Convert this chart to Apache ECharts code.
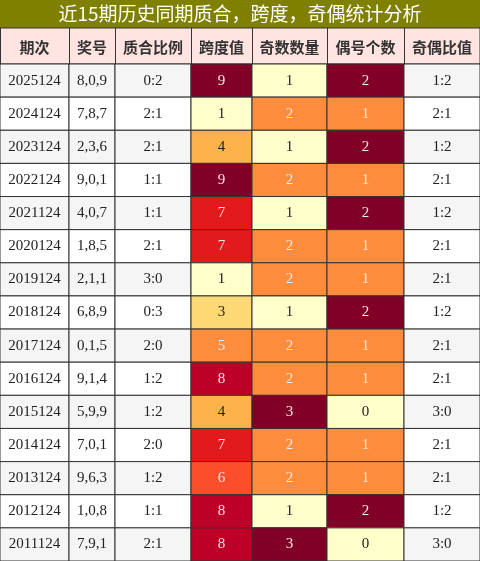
<!DOCTYPE html><html><head><meta charset="utf-8"><script src="https://cdn.jsdelivr.net/npm/echarts@6/dist/echarts.min.js"></script>
<style>html,body{margin:0;padding:0}#c{width:480px;height:561px}</style></head><body><div id="c"></div><script>
const title='近15期历史同期质合，跨度，奇偶统计分析';
const headers=['期次','奖号','质合比例','跨度值','奇数数量','偶号个数','奇偶比值'];
const periods=['2025124','2024124','2023124','2022124','2021124','2020124','2019124','2018124','2017124','2016124','2015124','2014124','2013124','2012124','2011124'];
const numbers=['8,0,9','7,8,7','2,3,6','9,0,1','4,0,7','1,8,5','2,1,1','6,8,9','0,1,5','9,1,4','5,9,9','7,0,1','9,6,3','1,0,8','7,9,1'];
const primeRatio=['0:2','2:1','2:1','1:1','1:1','2:1','3:0','0:3','2:0','1:2','1:2','2:0','1:2','1:1','2:1'];
const span=[9,1,4,9,7,7,1,3,5,8,4,7,6,8,8];
const oddCount=[1,2,1,2,1,2,2,1,2,2,3,2,2,1,3];
const evenCount=[2,1,2,1,2,1,1,2,1,1,0,1,1,2,0];
const oddEvenRatio=['1:2','2:1','1:2','2:1','1:2','2:1','2:1','1:2','2:1','2:1','3:0','2:1','2:1','1:2','3:0'];
const colEdges=[0,69,115,191,252,327,404,480];
const spanColors={1:'#ffffcc',3:'#fed976',4:'#feb24c',5:'#fd8d3c',6:'#fc4e2a',7:'#e31a1c',8:'#bd0026',9:'#800026'};
const oddColors={1:'#ffffcc',2:'#fd8d3c',3:'#800026'};
const evenColors={0:'#ffffcc',1:'#fd8d3c',2:'#800026'};
const data=[];
periods.forEach((p,i)=>{
  const base=i%2===0?'#f5f5f5':'#ffffff';
  const row=[[p,base],[numbers[i],base],[primeRatio[i],base],[span[i],spanColors[span[i]]],[oddCount[i],oddColors[oddCount[i]]],[evenCount[i],evenColors[evenCount[i]]],[oddEvenRatio[i],base]];
  row.forEach((c,j)=>data.push([j,i,String(c[0]),c[1]]));
});
const dark={'#800026':1,'#bd0026':1,'#e31a1c':1,'#fc4e2a':1,'#fd8d3c':1};
const chart=echarts.init(document.getElementById('c'));
chart.setOption({
 animation:false,
 grid:{left:0,right:0,top:64,bottom:0},
 xAxis:{type:'value',min:0,max:480,show:false},
 yAxis:{type:'category',data:periods,inverse:true,show:false},
 graphic:[
  {type:'rect',shape:{x:0,y:0,width:480,height:28},style:{fill:'#808000'}},
  {type:'text',x:240,y:14,style:{text:title,fill:'#fff',font:'19px "Noto Sans CJK SC"',align:'center',verticalAlign:'middle'}},
  {type:'rect',shape:{x:0,y:28,width:480,height:36},style:{fill:'#ffe4e1',stroke:'#333',lineWidth:1}},
  ...headers.map((h,j)=>({type:'group',children:[
    {type:'line',shape:{x1:colEdges[j]+0.5,y1:28,x2:colEdges[j]+0.5,y2:64},style:{stroke:'#333'}},
    {type:'text',x:(colEdges[j]+colEdges[j+1])/2,y:47,style:{text:h,fill:'#333',font:'bold 15px "Noto Sans CJK SC"',align:'center',verticalAlign:'middle'}}]}))
 ],
 series:[{type:'custom',data:data,renderItem:(params,api)=>{
   const j=api.value(0),i=api.value(1);
   const d=data[params.dataIndex];
   const y=api.coord([0,i])[1],h=api.size([0,1])[1];
   const x1=api.coord([colEdges[j],i])[0],x2=api.coord([colEdges[j+1],i])[0];
   return {type:'group',children:[
    {type:'rect',shape:{x:x1,y:y-h/2,width:x2-x1,height:h},style:{fill:d[3],stroke:'#333',lineWidth:1}},
    {type:'text',x:(x1+x2)/2,y:y,style:{text:d[2],fill:dark[d[3]]?'#f4e8e8':'#222',font:'15px "Liberation Serif"',align:'center',verticalAlign:'middle'}}]};
 }}]
});
</script></body></html>
